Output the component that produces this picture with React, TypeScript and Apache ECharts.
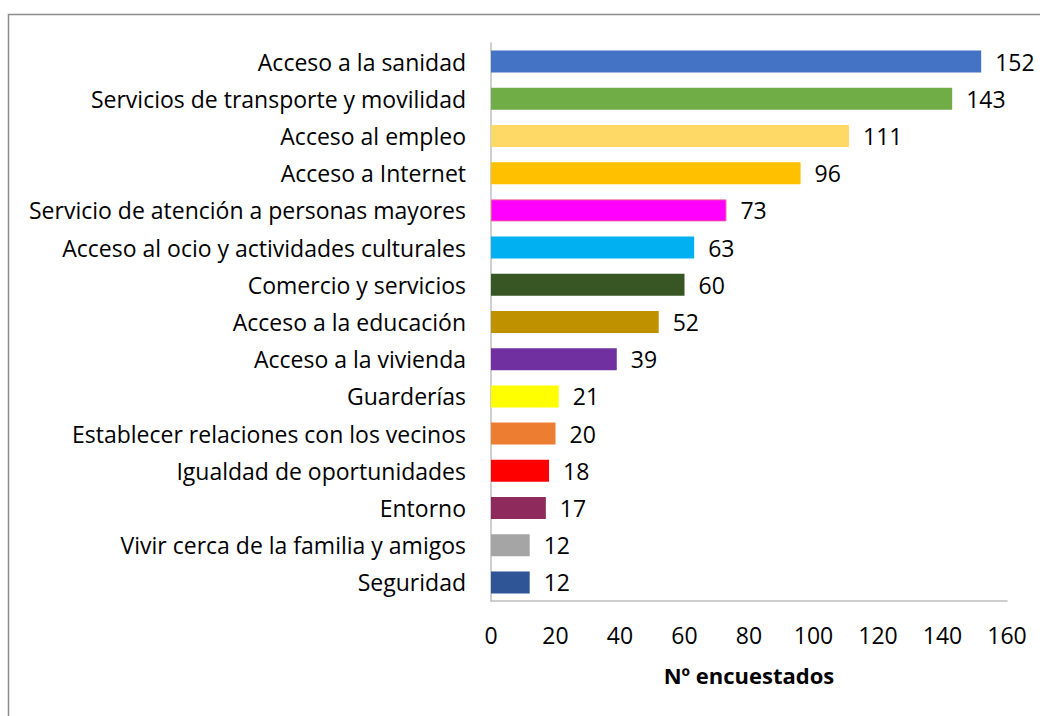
import React, { useEffect, useRef } from "react";
import * as echarts from "echarts";

const categories = [
  "Acceso a la sanidad",
  "Servicios de transporte y movilidad",
  "Acceso al empleo",
  "Acceso a Internet",
  "Servicio de atención a personas mayores",
  "Acceso al ocio y actividades culturales",
  "Comercio y servicios",
  "Acceso a la educación",
  "Acceso a la vivienda",
  "Guarderías",
  "Establecer relaciones con los vecinos",
  "Igualdad de oportunidades",
  "Entorno",
  "Vivir cerca de la familia y amigos",
  "Seguridad",
];
const values = [152, 143, 111, 96, 73, 63, 60, 52, 39, 21, 20, 18, 17, 12, 12];
const colors = [
  "#4472C4", "#70AD47", "#FFD966", "#FFC000", "#FF00FF", "#00B0F0", "#375623",
  "#BF9000", "#7030A0", "#FFFF00", "#ED7D31", "#FF0000", "#8E2A5C", "#A5A5A5", "#2F5597",
];
const xTicks = [0, 20, 40, 60, 80, 100, 120, 140, 160];
const axisTitle = "Nº encuestados";

const FONT = "Open Sans";
const FS = 23;

export default function App() {
  const ref = useRef<HTMLDivElement>(null);
  useEffect(() => {
    const chart = echarts.init(ref.current!, null, { renderer: "svg" });
    chart.setOption({
      animation: false,
      backgroundColor: "#fff",
      textStyle: { fontFamily: FONT },
      graphic: [
        {
          type: "rect",
          shape: { x: 8.5, y: 14.5, width: 1100, height: 800 },
          style: { fill: "none", stroke: "#8c8c8c", lineWidth: 1.5 },
          silent: true,
        },
      ],
      grid: { left: 491, right: 33, top: 43, bottom: 115, containLabel: false },
      xAxis: {
        type: "value",
        min: xTicks[0],
        max: xTicks[xTicks.length - 1],
        interval: 20,
        splitLine: { show: false },
        axisLine: { show: true, lineStyle: { color: "#BFBFBF", width: 1.5 } },
        axisTick: { show: false },
        axisLabel: { fontSize: FS, color: "#000", margin: 22, fontFamily: FONT },
        name: axisTitle,
        nameLocation: "middle",
        nameGap: 63,
        nameTextStyle: { fontSize: 22, fontWeight: "bold", color: "#000", fontFamily: FONT },
      },
      yAxis: {
        type: "category",
        data: categories,
        inverse: true,
        axisLine: { show: true, lineStyle: { color: "#BFBFBF", width: 1.5 } },
        axisTick: { show: false },
        axisLabel: { fontSize: FS, color: "#000", margin: 25, fontFamily: FONT },
      },
      series: [
        {
          type: "bar",
          data: values.map((v, i) => ({
            value: v,
            itemStyle:
              i === 4
                ? { color: colors[i], borderColor: "#F2549E", borderWidth: 1 }
                : { color: colors[i] },
          })),
          barWidth: 22,
          label: {
            show: true,
            position: "right",
            distance: 14,
            fontSize: FS,
            color: "#000",
            fontFamily: FONT,
          },
        },
      ],
    });
    return () => chart.dispose();
  }, []);
  return (
    <div
      ref={ref}
      style={{ position: "absolute", left: 0, top: 0, width: 1040, height: 716 }}
    />
  );
}
